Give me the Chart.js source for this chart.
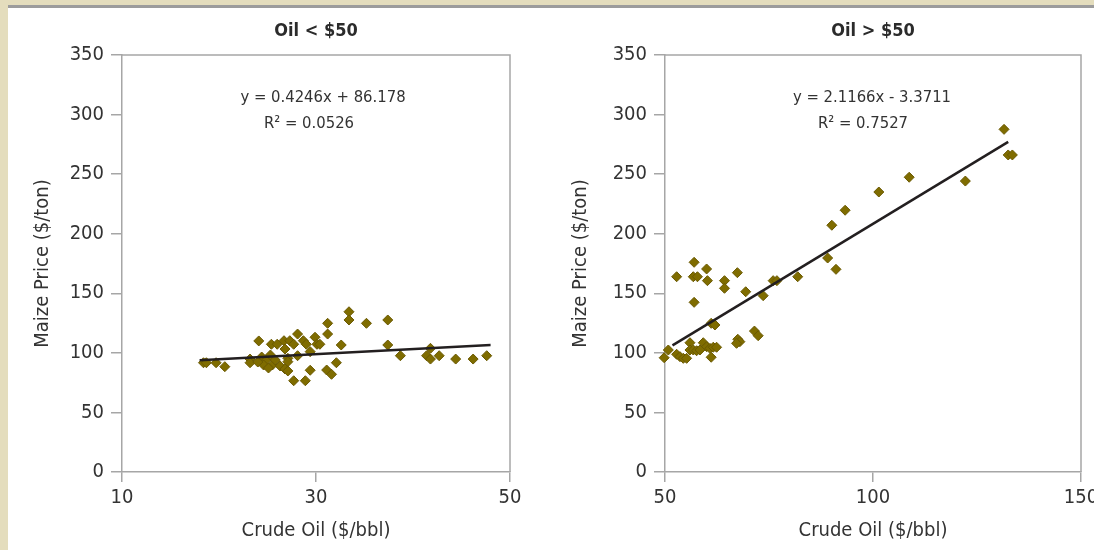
<!DOCTYPE html>
<html>
<head>
<meta charset="utf-8">
<script src="https://cdn.jsdelivr.net/npm/chart.js@4.4.1/dist/chart.umd.min.js"></script>
<style>
  html, body { margin: 0; padding: 0; overflow: hidden; }
  body { width: 1094px; height: 550px; background: #e4ddbd; position: relative; }
  #panel { position: absolute; left: 8px; top: 5px; width: 1086px; height: 545px;
           background: #fff; border-top: 3px solid #9c9c9c; }
  canvas { position: absolute; top: 0; }
  #leftChart { left: 0; }
  #rightChart { left: 547px; }
</style>
</head>
<body>
<div id="panel"></div>
<canvas id="leftChart" width="547" height="550"></canvas>
<canvas id="rightChart" width="563" height="550"></canvas>
<script>
  // Oil < $50 : crude oil ($/bbl) vs maize price ($/ton)
  var lowOil = [18.4, 18.7, 19.7, 20.6, 24.1, 23.2, 23.2, 24.4, 24.9, 25.3, 24.6, 25.5, 25.8, 25.1, 24.0, 26.3,
    25.4, 26.0, 26.7, 27.3, 27.7, 28.1, 26.8, 27.1, 27.1, 28.1, 26.8, 27.1, 27.7, 28.9, 28.7, 29.0, 29.4, 29.4,
    29.9, 30.1, 30.4, 31.2, 31.2, 31.1, 31.6, 32.1, 32.6, 33.4, 33.4, 35.2, 37.4, 37.4, 38.7, 41.4, 41.8, 41.8,
    42.7, 44.4, 46.2, 47.6];
  var lowMaize = [91.7, 91.7, 91.7, 88.4, 110, 94.8, 91.7, 96.5, 94, 98.2, 89.8, 89.8, 94, 87.3, 92.3, 89,
    107.2, 107.2, 110.2, 110.2, 107.2, 115.8, 103.2, 95.4, 92.6, 97.6, 86.5, 84.8, 76.6, 76.6, 110.2, 107.2, 101, 85.4,
    113.1, 107.2, 107.2, 124.8, 115.8, 85.6, 82, 91.7, 106.6, 134.5, 127.6, 124.8, 127.6, 106.6, 97.6, 97.6, 94.8, 103.8,
    97.6, 94.8, 94.8, 97.6];

  // Oil > $50
  var highOil = [57.0, 52.8, 56.8, 57.8, 60.0, 60.2, 64.3, 64.3, 67.4, 69.4, 73.6, 76.0, 76.9, 81.9,
    57.0, 61.1, 62.0, 56.0, 59.2, 60.0, 60.8, 61.6, 62.4, 67.5, 68.0, 67.2, 71.5, 72.4, 50.8, 49.8,
    52.8, 53.6, 54.4, 55.2, 56.0, 56.8, 57.6, 58.4, 61.1, 89.1, 91.1, 90.1, 93.3, 101.4, 108.7, 122.2,
    131.5, 132.5, 133.5];
  var highMaize = [176, 163.9, 163.9, 163.9, 170.4, 160.6, 160.6, 154.2, 167.3, 151.3, 148, 160.6, 160.6, 163.9,
    142.4, 124.8, 123.4, 108.5, 108.5, 105.2, 103.8, 104.7, 104.7, 111.4, 109.4, 108, 118.3, 114.4, 102.4, 95.9,
    98.8, 96.8, 95.4, 95.4, 102.4, 102.4, 101.8, 102.4, 96.3, 179.6, 170.1, 207.1, 219.7, 235, 247.4, 244.2,
    287.6, 266.1, 266.1];

  // trend lines (from the equations shown on the chart)
  var lowFit = { slope: 0.4246, intercept: 86.178, from: 18, to: 48, r2: '0.0526' };
  var highFit = { slope: 2.1166, intercept: -3.3711, from: 51.8, to: 132.5, r2: '0.7527' };

  var lowTicks = [10, 30, 50];
  var highTicks = [50, 100, 150];
  var yTicks = [0, 50, 100, 150, 200, 250, 300, 350];

  var FONT = '"Liberation Sans Narrow", "DejaVu Sans Condensed", "Roboto", sans-serif';
  Chart.defaults.font.family = FONT;
  Chart.defaults.color = '#333';

  function toPoints(xs, ys) {
    return xs.map(function (x, i) { return { x: x, y: ys[i] }; });
  }

  function fitLabel(fit) {
    var b = fit.intercept < 0 ? ' - ' + Math.abs(fit.intercept) : ' + ' + fit.intercept;
    return 'y = ' + fit.slope + 'x' + b;
  }

  // frame on top/right, panel title and the regression text
  var framePlugin = {
    id: 'frame',
    afterDraw: function (chart, args, opts) {
      var ctx = chart.ctx, a = chart.chartArea;
      ctx.save();
      ctx.strokeStyle = '#a6a6a6';
      ctx.lineWidth = 1.5;
      ctx.beginPath();
      ctx.moveTo(a.left, a.top);
      ctx.lineTo(a.right, a.top);
      ctx.lineTo(a.right, a.bottom);
      ctx.stroke();

      ctx.fillStyle = '#2b2b2b';
      ctx.textAlign = 'center';
      ctx.textBaseline = 'middle';
      ctx.font = 'bold 18px ' + FONT;
      ctx.fillText(opts.title, (a.left + a.right) / 2, a.top - 24);

      ctx.fillStyle = '#333';
      ctx.font = '16.5px ' + FONT;
      ctx.fillText(fitLabel(opts.fit), a.left + opts.eqX, a.top + 43);
      ctx.fillText('R\u00b2 = ' + opts.fit.r2, a.left + opts.r2X, a.top + 69);
      ctx.restore();
    }
  };

  function makeChart(id, xs, ys, fit, ticks, title, pad, yWidth, eqX, r2X) {
    var ctx = document.getElementById(id);
    return new Chart(ctx, {
      type: 'scatter',
      data: {
        datasets: [
          {
            type: 'line',
            data: [
              { x: fit.from, y: fit.slope * fit.from + fit.intercept },
              { x: fit.to, y: fit.slope * fit.to + fit.intercept }
            ],
            borderColor: '#231f20',
            borderWidth: 2.5,
            pointRadius: 0,
            fill: false,
            order: 0
          },
          {
            data: toPoints(xs, ys),
            pointStyle: 'rectRot',
            pointRadius: 5,
            backgroundColor: '#7f6c00',
            borderColor: '#6a5900',
            borderWidth: 1,
            clip: false,
            order: 1
          }
        ]
      },
      options: {
        responsive: false,
        animation: false,
        layout: { padding: pad },
        plugins: {
          legend: { display: false },
          tooltip: { enabled: false },
          frame: { title: title, fit: fit, eqX: eqX, r2X: r2X }
        },
        scales: {
          x: {
            type: 'linear',
            min: ticks[0],
            max: ticks[ticks.length - 1],
            afterBuildTicks: function (s) { s.ticks = ticks.map(function (v) { return { value: v }; }); },
            afterFit: function (s) { s.height = 71; },
            grid: { drawOnChartArea: false, tickLength: 10, color: '#a6a6a6', lineWidth: 1.5 },
            border: { color: '#a6a6a6', width: 1.5 },
            ticks: { padding: 4, font: { size: 20 }, color: '#333', maxRotation: 0 },
            title: { display: true, text: 'Crude Oil ($/bbl)', padding: 0, font: { size: 20 }, color: '#333' }
          },
          y: {
            min: 0,
            max: 350,
            afterBuildTicks: function (s) { s.ticks = yTicks.map(function (v) { return { value: v }; }); },
            afterFit: function (s) { s.width = yWidth; },
            grid: { drawOnChartArea: false, tickLength: 11, color: '#a6a6a6', lineWidth: 1.5 },
            border: { color: '#a6a6a6', width: 1.5 },
            ticks: { padding: 7, font: { size: 20 }, color: '#333' },
            title: { display: true, text: 'Maize Price ($/ton)', padding: 0, font: { size: 20 }, color: '#333' }
          }
        }
      },
      plugins: [framePlugin]
    });
  }

  makeChart('leftChart', lowOil, lowMaize, lowFit, lowTicks, 'Oil < $50',
    { left: 31, top: 55, right: 37, bottom: 7 }, 91, 201, 187);
  makeChart('rightChart', highOil, highMaize, highFit, highTicks, 'Oil > $50',
    { left: 22, top: 55, right: 29, bottom: 7 }, 96, 207, 198);
</script>
</body>
</html>
